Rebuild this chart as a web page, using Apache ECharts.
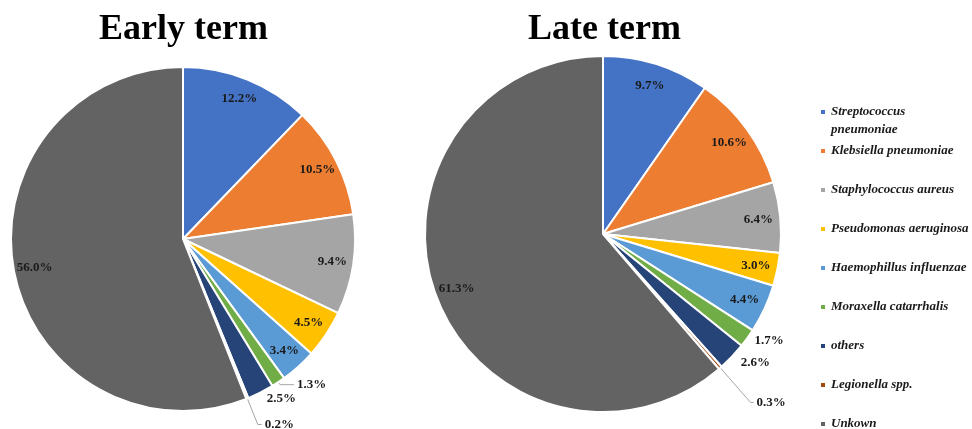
<!DOCTYPE html>
<html>
<head>
<meta charset="utf-8">
<script src="https://cdn.jsdelivr.net/npm/echarts@6/dist/echarts.min.js"></script>
<style>
html,body{margin:0;padding:0;background:#fff;}
#main{width:972px;height:429px;}
</style>
</head>
<body>
<div id="main"></div>
<script>
// ---- data ----
const categories = [
  'Streptococcus pneumoniae',
  'Klebsiella pneumoniae',
  'Staphylococcus aureus',
  'Pseudomonas aeruginosa',
  'Haemophillus influenzae',
  'Moraxella catarrhalis',
  'others',
  'Legionella spp.',
  'Unkown'
];
const earlyValues = [12.2, 10.5, 9.4, 4.5, 3.4, 1.3, 2.5, 0.2, 56.0];
const lateValues  = [9.7, 10.6, 6.4, 3.0, 4.4, 1.7, 2.6, 0.3, 61.3];
const titles = ['Early term', 'Late term'];

// ---- style ----
const colors = ['#4472C4', '#ED7D31', '#A5A5A5', '#FFC000', '#5B9BD5', '#70AD47', '#264478', '#9E480E', '#636363'];
// label placement: 0 = inside end, 1 = outside without leader, 2 = outside with leader
const earlyLabelMode = [0, 0, 0, 0, 0, 2, 1, 2, 0];
const lateLabelMode  = [0, 0, 0, 0, 0, 1, 1, 2, 0];
// leader lengths [length, length2] for outside labels
const earlyLeader = [null, null, null, null, null, [3, 14], [7, 0], [28, 4], null];
const lateLeader  = [null, null, null, null, null, [5, 0], [8, 0], [46, 3], null];

const serif = "'Liberation Serif', 'Times New Roman', serif";
const labelFont = { fontFamily: serif, fontWeight: 'bold', fontSize: 13, color: '#1a1a1a' };
const fmt = p => p.value.toFixed(1) + '%';

function makePie(values, modes, leaders, center, R) {
  const main = {
    type: 'pie',
    center: center,
    radius: R,
    startAngle: 90,
    clockwise: true,
    silent: true,
    avoidLabelOverlap: false,
    itemStyle: { borderColor: '#ffffff', borderWidth: 2 },
    label: Object.assign({ show: false, position: 'outside', formatter: fmt, distanceToLabelLine: 3 }, labelFont),
    labelLine: { show: false, lineStyle: { color: '#a6a6a6', width: 1 } },
    emphasis: { disabled: true },
    data: categories.map((n, i) => {
      const m = modes[i];
      const d = { name: n, value: values[i], itemStyle: { color: colors[i] } };
      if (m === 1 || m === 2) {
        d.label = { show: true };
        d.labelLine = { show: m === 2, length: leaders[i][0], length2: leaders[i][1] };
      }
      return d;
    })
  };
  const overlay = {
    type: 'pie',
    center: center,
    radius: [Math.round(R * 0.72), R],
    startAngle: 90,
    clockwise: true,
    silent: true,
    avoidLabelOverlap: false,
    legendHoverLink: false,
    itemStyle: { color: 'rgba(0,0,0,0)', borderWidth: 0 },
    label: Object.assign({ show: true, position: 'inside', formatter: fmt }, labelFont),
    labelLine: { show: false },
    emphasis: { disabled: true },
    data: categories.map((n, i) => ({
      name: n, value: values[i],
      label: { show: modes[i] === 0 }
    }))
  };
  return [main, overlay];
}

const chart = echarts.init(document.getElementById('main'), null, { renderer: 'canvas' });
const legendText = { fontFamily: serif, fontStyle: 'italic', fontWeight: 'bold', fontSize: 13, color: '#1a1a1a', lineHeight: 18 };
chart.setOption({
  animation: false,
  backgroundColor: '#ffffff',
  title: [
    { text: titles[0], left: 99, top: 12, padding: 0,
      textStyle: { fontFamily: serif, fontWeight: 'bold', fontSize: 36, color: '#000' } },
    { text: titles[1], left: 528, top: 12, padding: 0,
      textStyle: { fontFamily: serif, fontWeight: 'bold', fontSize: 36, color: '#000' } }
  ],
  legend: [
    {
      orient: 'vertical', left: 819, top: 85, padding: 0, height: 80,
      icon: 'rect', itemWidth: 6, itemHeight: 6,
      selectedMode: false,
      data: [categories[0]],
      formatter: n => '\n' + n.replace(' ', '\n'),
      textStyle: legendText
    },
    {
      orient: 'vertical', left: 819, top: 142, padding: 0, height: 300,
      icon: 'rect', itemWidth: 6, itemHeight: 6, itemGap: 21,
      selectedMode: false,
      data: categories.slice(1),
      textStyle: legendText
    }
  ],
  series: [].concat(
    makePie(earlyValues, earlyLabelMode, earlyLeader, [183, 239], 172),
    makePie(lateValues, lateLabelMode, lateLeader, [603, 234], 178)
  )
});
</script>
</body>
</html>
